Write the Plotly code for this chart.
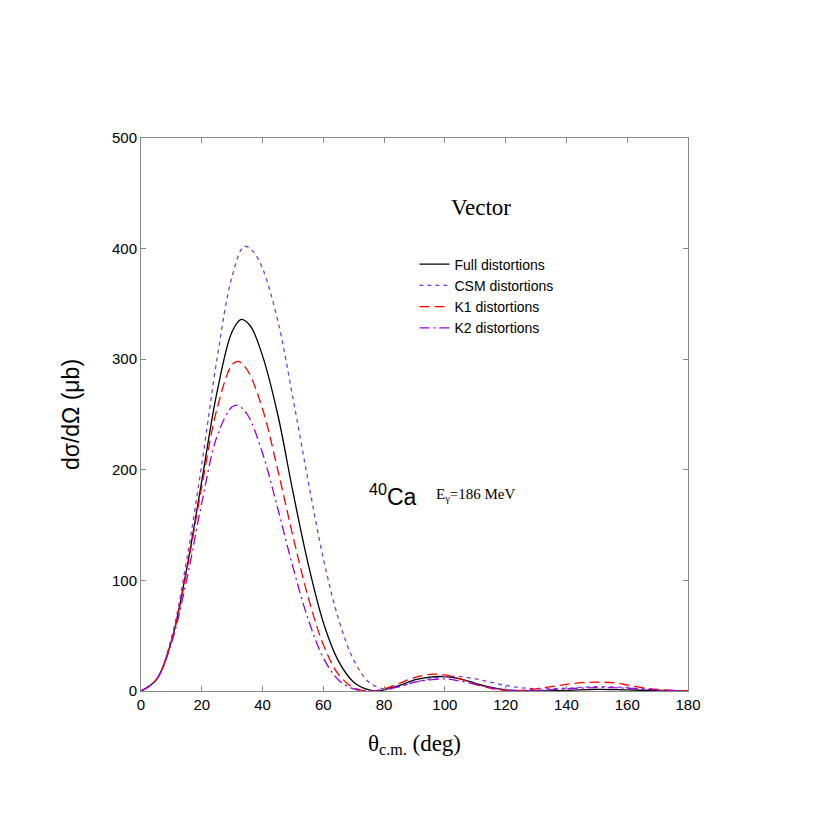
import plotly.graph_objects as go

full_x = [0,5,10,15,20,25,30,33,36,40,45,50,55,60,65,70,75,78,80,85,90,95,100,105,110,115,120,125,130,140,150,160,170,180]
full_y = [0,10,45,110,190,270,325,336,330,303,250,180,115,62,27,8,1,0,1,5,10,12.5,13,11,7,3.5,1,0.2,0,0.5,1.5,1,0.3,0]
csm_x = [0,5,10,15,20,25,30,34,37,40,45,50,55,60,65,70,75,80,85,90,95,100,105,110,115,120,125,130,140,150,160,170,180]
csm_y = [0,10,48,118,205,300,375,402,397,382,335,265,190,120,65,28,8,2,4,8,11,13,13,11,8,5,3,2,2.5,4,3,1,0]
k1_x = [0,5,10,15,20,25,30,32,35,40,45,50,55,60,65,70,75,80,85,90,95,100,105,110,115,120,125,130,135,140,145,150,155,160,165,170,180]
k1_y = [0,10,45,108,185,255,295,298,290,255,200,140,85,42,15,3,0,2,7,12,15,14.5,11,6,2.5,0.5,0.5,2,4,6,7.5,8,7.5,5.5,3,1.5,0]
k2_x = [0,5,10,15,20,25,30,32,35,40,45,50,55,60,65,70,75,80,85,90,95,100,105,110,115,120,130,140,150,160,170,180]
k2_y = [0,10,43,100,170,230,257,258,250,215,165,112,65,30,10,2,0,1,4,8,10,11,9,6,3,1,0.5,2,3,2.5,1,0]

names = ["Full distortions", "CSM distortions", "K1 distortions", "K2 distortions"]
colors = ["black", "#7b3fd9", "red", "#9b00e0"]
dashes = ["solid", "4px,4px", "10px,5px", "10px,4px,2px,4px"]

fig = go.Figure()
for xs, ys, n, c, d in zip([full_x, csm_x, k1_x, k2_x], [full_y, csm_y, k1_y, k2_y], names, colors, dashes):
    fig.add_trace(go.Scatter(x=xs, y=ys, mode="lines", name=n,
                             line=dict(color=c, dash=d, width=1.3, shape="spline", smoothing=1.0)))

axis_common = dict(showline=True, linecolor="#888", linewidth=1, mirror="ticks",
                   ticks="inside", ticklen=5, tickcolor="#888", showgrid=False, zeroline=False,
                   tickfont=dict(family="Liberation Sans, Arial", size=15, color="black"))
fig.update_layout(
    width=830, height=830, plot_bgcolor="white", paper_bgcolor="white",
    font=dict(color="black"),
    margin=dict(l=133, r=150, t=130, b=147),
    xaxis=dict(range=[0, 180], dtick=20, title=dict(text="θ<sub>c.m.</sub> (deg)",
               font=dict(family="Liberation Serif, Times New Roman", size=23, color="black"), standoff=22), **axis_common),
    yaxis=dict(range=[0, 500], dtick=100, title=dict(text="dσ/dΩ (μb)",
               font=dict(family="Liberation Sans, Arial", size=23, color="black"), standoff=25), **axis_common),
    legend=dict(x=0.5, y=0.8, xanchor="left", yanchor="top", bgcolor="rgba(0,0,0,0)",
                font=dict(family="Liberation Sans, Arial", size=14, color="black"), tracegroupgap=0),
    showlegend=True,
    annotations=[
        dict(x=0.68, y=0.9, xref="paper", yref="paper", text="Vector", showarrow=False,
             font=dict(family="Liberation Serif, Times New Roman", size=23, color="black")),
        dict(x=0.46, y=0.355, xref="paper", yref="paper", text="<sup>40</sup>Ca", showarrow=False,
             font=dict(family="Liberation Sans, Arial", size=23, color="black")),
        dict(x=0.69, y=0.355, xref="paper", yref="paper", text="E<sub>γ</sub>=186 MeV", showarrow=False,
             font=dict(family="Liberation Serif, Times New Roman", size=15, color="black")),
    ],
)
fig.write_html("out.html")
